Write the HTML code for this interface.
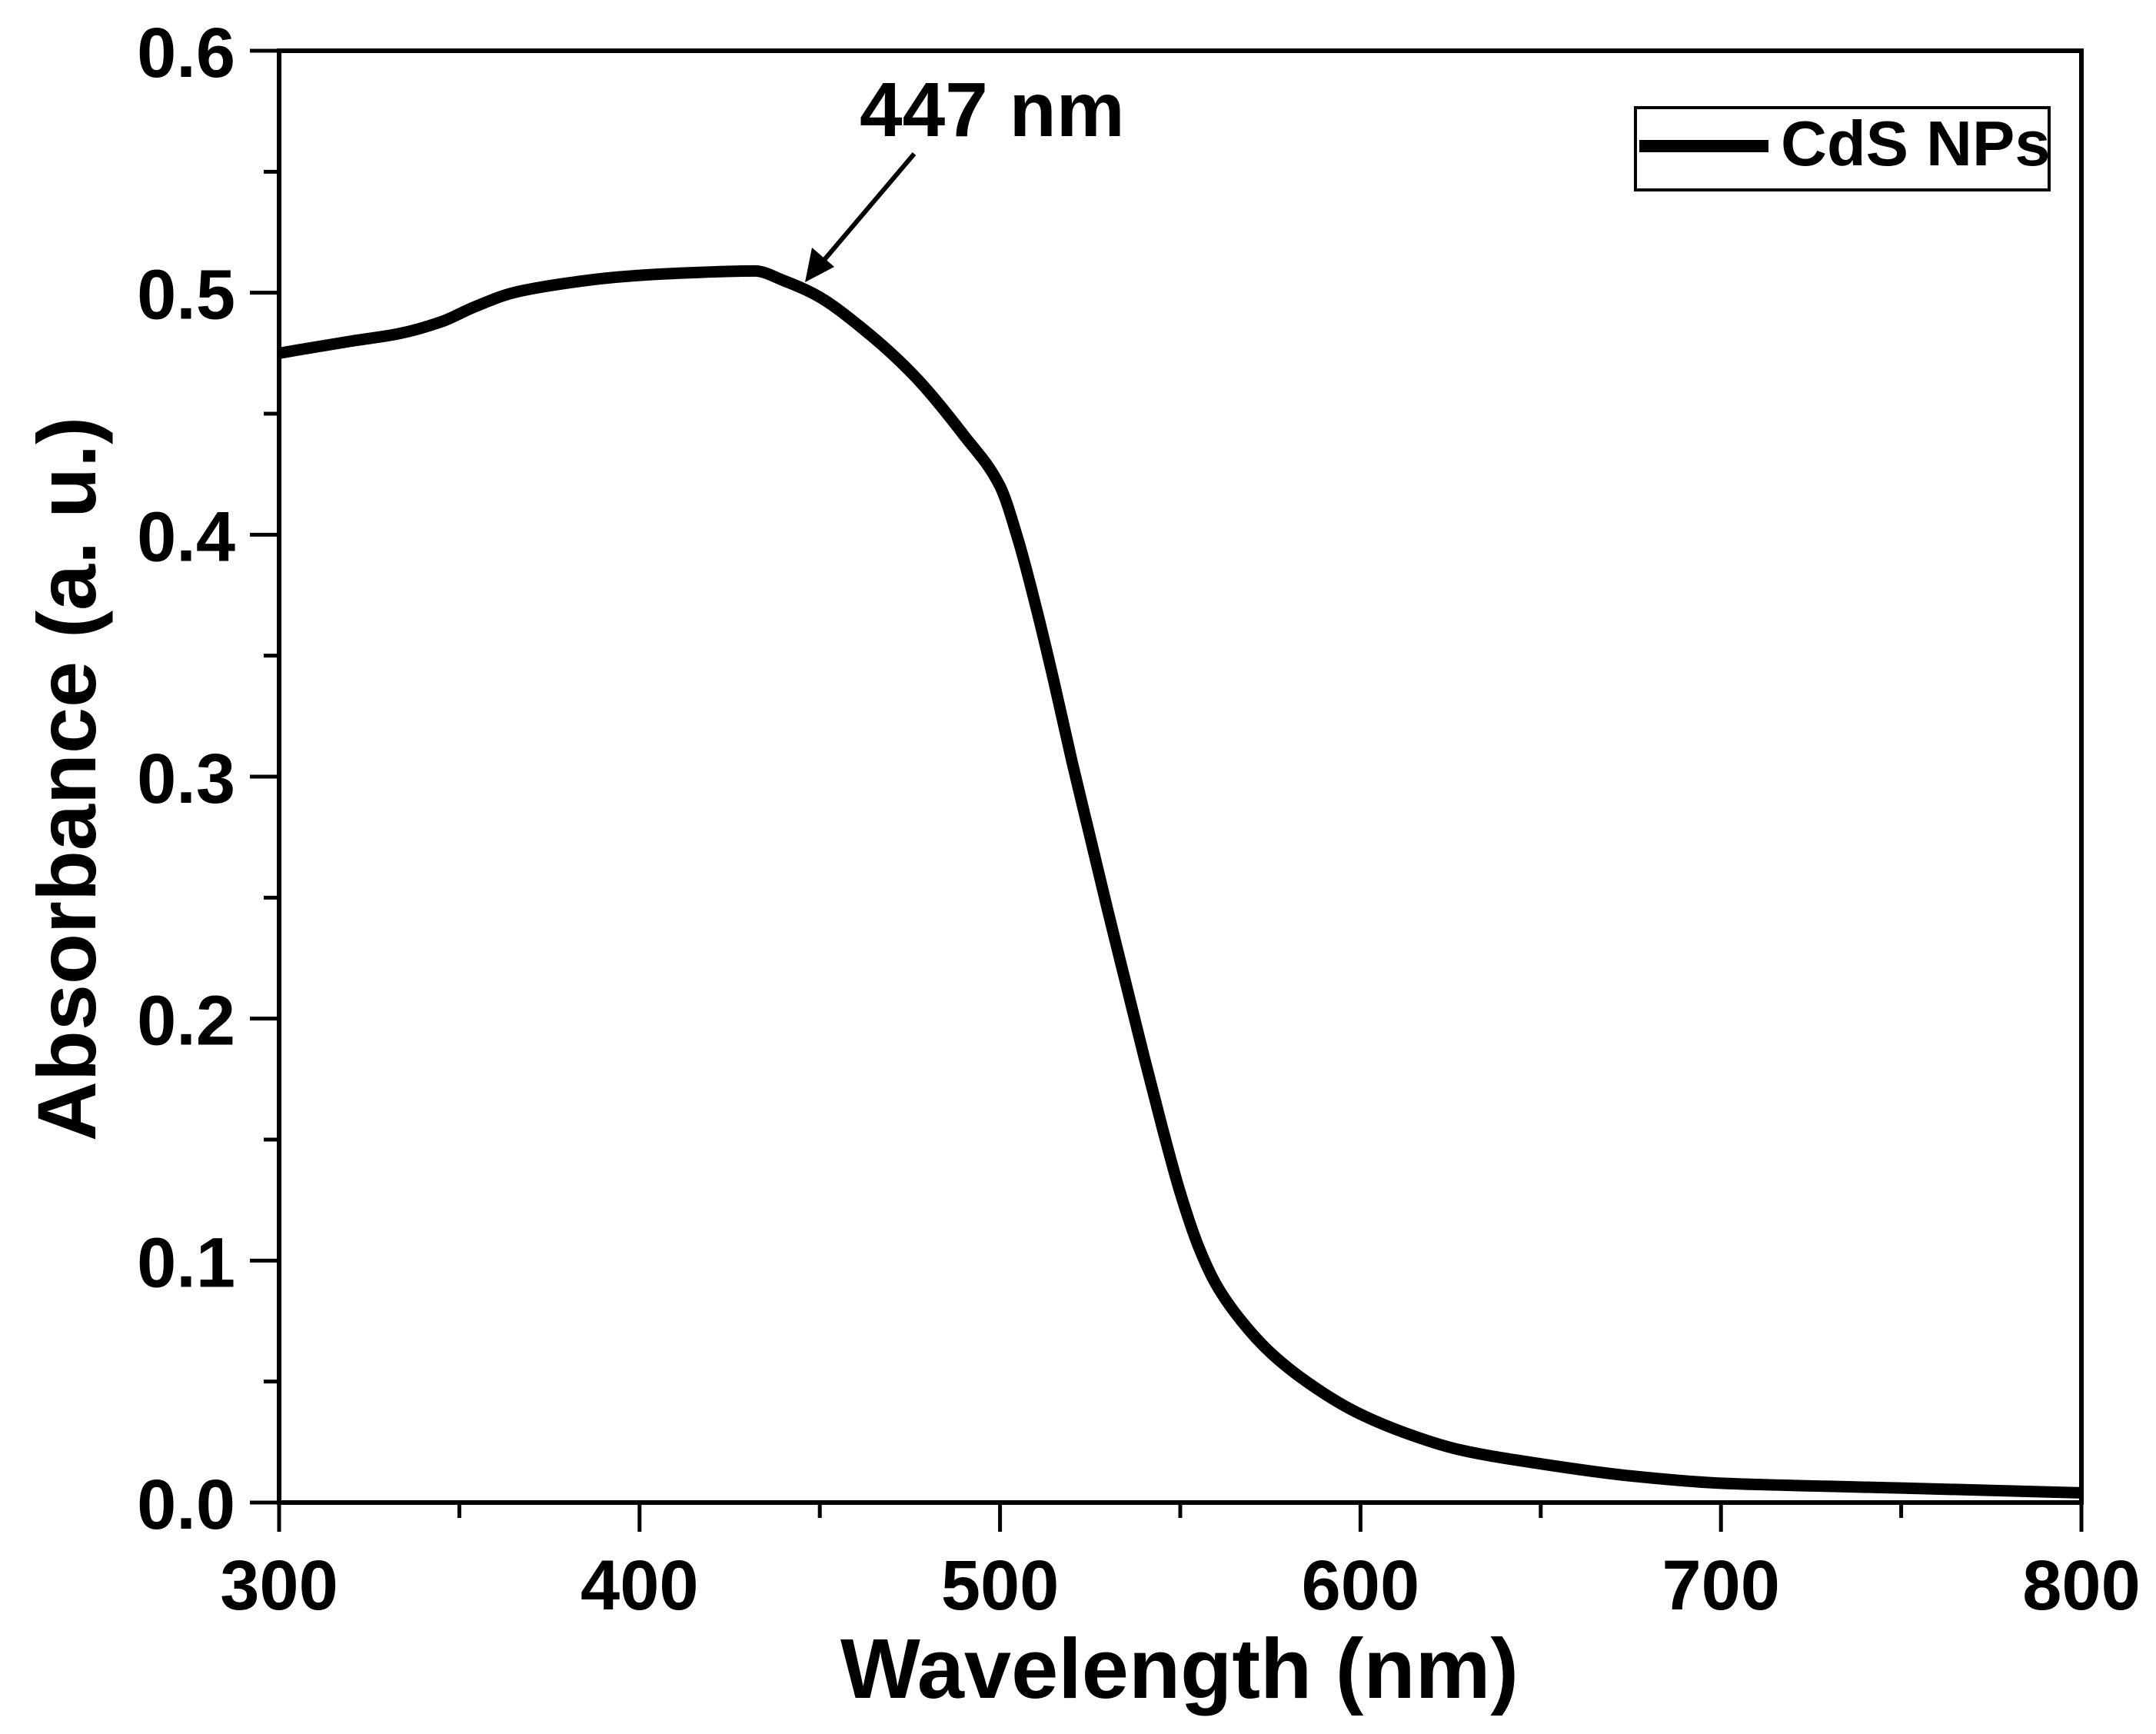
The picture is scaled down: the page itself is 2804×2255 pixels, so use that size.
<!DOCTYPE html>
<html><head><meta charset="utf-8"><style>
html,body{margin:0;padding:0;background:#fff;}
svg{display:block;}
text{font-family:"Liberation Sans",Arial,sans-serif;font-weight:bold;fill:#000;}
</style></head><body>
<svg id="chart" width="2804" height="2255" viewBox="0 0 2804 2255" xmlns="http://www.w3.org/2000/svg">
<g id="axes"></g>
<g id="plot"></g>
<text x="1118" y="177" font-size="100">447 nm</text>
<g>
<line x1="1189" y1="200" x2="1066" y2="345" stroke="#000" stroke-width="6"/>
<polygon points="1047,367 1056,322 1085,347" fill="#000"/>
</g>
<g>
<rect x="2127" y="140" width="538" height="107" fill="#fff" stroke="#000" stroke-width="4"/>
<line x1="2132" y1="190" x2="2300" y2="190" stroke="#000" stroke-width="16"/>
<text x="2316" y="215" font-size="83">CdS NPs</text>
</g>
<text x="1534" y="2208" font-size="110" text-anchor="middle">Wavelength (nm)</text>
<text transform="translate(124,1013) rotate(-90)" font-size="108" text-anchor="middle">Absorbance (a. u.)</text>
</svg>
<script>
const wavelengths=[300,320,333,345,354,365,380,394,410,432,440,449,462,476,490,500,505,510,515,520,525,530,535,540,545,550,555,560,567,575,585,598,612,627,650,675,700,750,800];
const absorbance=[0.475,0.480,0.483,0.488,0.494,0.500,0.504,0.5065,0.508,0.509,0.505,0.499,0.485,0.466,0.441,0.420,0.398,0.370,0.339,0.306,0.275,0.244,0.214,0.184,0.155,0.128,0.106,0.090,0.075,0.062,0.050,0.038,0.029,0.022,0.016,0.011,0.008,0.006,0.004];
const xTicks=[300,400,500,600,700,800];
const xMinor=[350,450,550,650,750];
const yTicks=[0.0,0.1,0.2,0.3,0.4,0.5,0.6];
const yTickLabels=["0.0","0.1","0.2","0.3","0.4","0.5","0.6"];
const yMinor=[0.05,0.15,0.25,0.35,0.45,0.55];

const L=363,R=2707,T=66,B=1954;
function xs(v){return L+(v-300)/(800-300)*(R-L);}
function ys(v){return B-(v-0)/(0.6-0)*(B-T);}
const NS="http://www.w3.org/2000/svg";
function mk(tag,attrs,parent){const e=document.createElementNS(NS,tag);for(const k in attrs)e.setAttribute(k,attrs[k]);parent.appendChild(e);return e;}
const axes=document.getElementById('axes');
const plot=document.getElementById('plot');

let frame=mk('rect',{x:L,y:T,width:R-L,height:B-T,fill:'none',stroke:'#000','stroke-width':6},axes);



xTicks.forEach(v=>{
  let t=mk('line',{x1:xs(v),x2:xs(v),y1:B,y2:B+38,stroke:'#000','stroke-width':5},axes);
  
  
  let lb=mk('text',{x:xs(v),y:2093,'font-size':92,'text-anchor':'middle'},axes);
  lb.textContent=String(v);
  
  
});
xMinor.forEach(v=>{
  let t=mk('line',{x1:xs(v),x2:xs(v),y1:B,y2:B+20,stroke:'#000','stroke-width':5},axes);
  
  
});
yTicks.forEach((v,i)=>{
  let t=mk('line',{x1:L-38,x2:L,y1:ys(v),y2:ys(v),stroke:'#000','stroke-width':5},axes);
  
  
  let lb=mk('text',{x:306,y:ys(v)+34,'font-size':92,'text-anchor':'end'},axes);
  lb.textContent=yTickLabels[i];
  
  
});
yMinor.forEach(v=>{
  let t=mk('line',{x1:L-20,x2:L,y1:ys(v),y2:ys(v),stroke:'#000','stroke-width':5},axes);
  
  
});

// monotone cubic (Fritsch-Carlson) through data points in pixel space
const px=wavelengths.map(xs), py=absorbance.map(ys);
const n=px.length;
const dk=[],m=new Array(n);
for(let i=0;i<n-1;i++) dk.push((py[i+1]-py[i])/(px[i+1]-px[i]));
m[0]=dk[0]; m[n-1]=dk[n-2];
for(let i=1;i<n-1;i++){
  if(dk[i-1]*dk[i]<=0) m[i]=0;
  else { const h0=px[i]-px[i-1], h1=px[i+1]-px[i];
    const w1=2*h1+h0, w2=h1+2*h0;
    m[i]=(w1+w2)/(w1/dk[i-1]+w2/dk[i]); }
}
let d='M'+px[0]+','+py[0];
for(let i=0;i<n-1;i++){
  const h=(px[i+1]-px[i])/3;
  d+=' C'+(px[i]+h)+','+(py[i]+m[i]*h)+' '+(px[i+1]-h)+','+(py[i+1]-m[i+1]*h)+' '+px[i+1]+','+py[i+1];
}
let line=mk('path',{d:d,fill:'none',stroke:'#000','stroke-width':15,'stroke-linejoin':'round'},plot);


</script>
</body></html>
